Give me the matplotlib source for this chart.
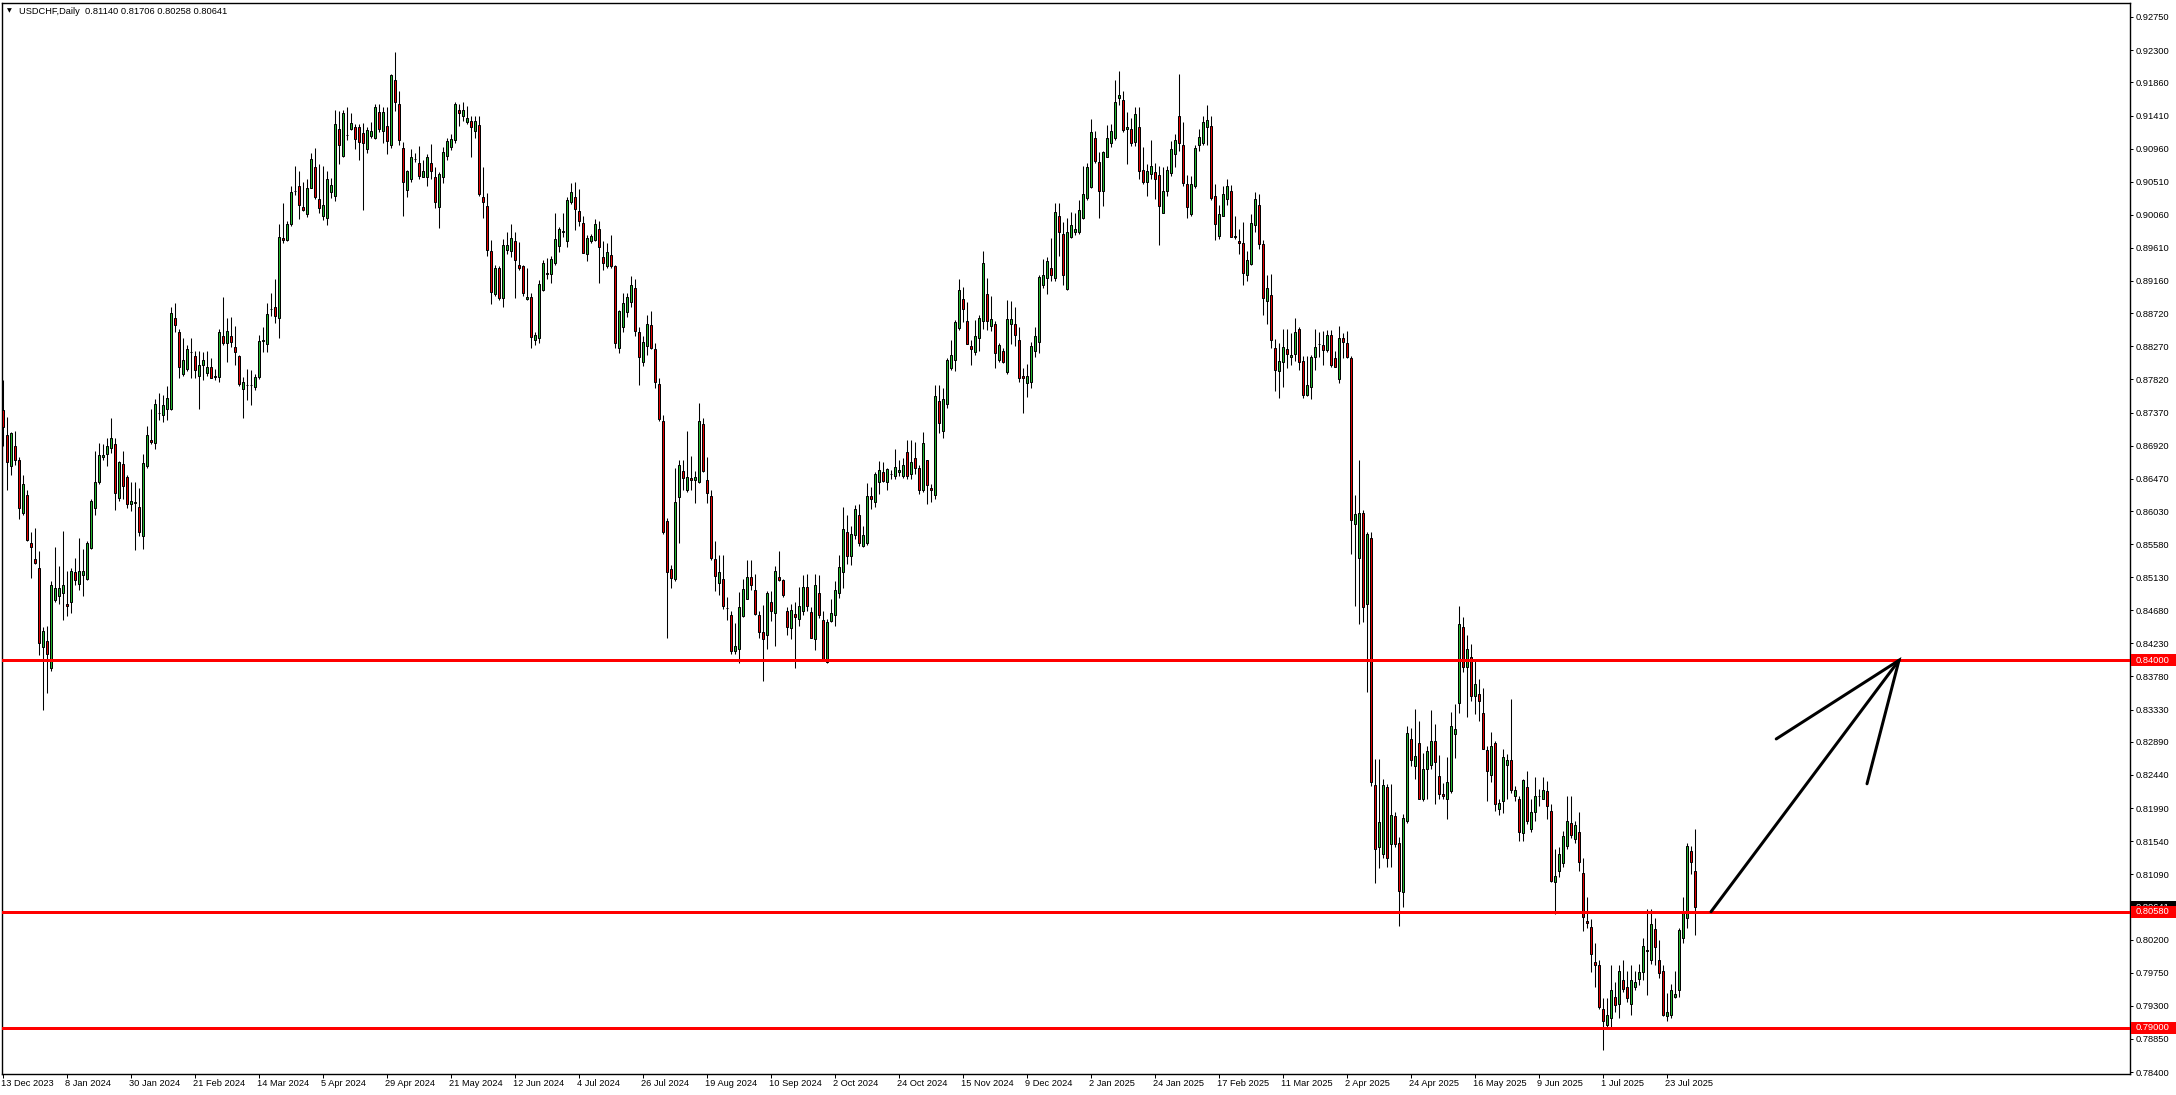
import numpy as np
import matplotlib
matplotlib.use('Agg')
import matplotlib.pyplot as plt
from matplotlib.patches import Rectangle
from matplotlib.transforms import blended_transform_factory, ScaledTranslation

# ---------------- data (daily USDCHF, bar index 0 = 13 Dec 2023) ----------------
opens = [
0.8741,0.8707,0.8664,0.8692,0.8673,0.8601,0.8625,0.8560,0.8538,0.8526,
0.8418,0.8426,0.8389,0.8482,0.8488,0.8492,0.8476,0.8479,0.8520,0.8504,
0.8516,0.8510,0.8553,0.8607,0.8643,0.8676,0.8680,0.8689,0.8694,0.8621,
0.8667,0.8649,0.8612,0.8615,0.8609,0.8569,0.8664,0.8700,0.8695,0.8737,
0.8733,0.8742,0.8742,0.8865,0.8847,0.8790,0.8796,0.8820,0.8814,0.8787,
0.8801,0.8791,0.8799,0.8787,0.8785,0.8841,0.8832,0.8841,0.8826,0.8814,
0.8769,0.8775,0.8774,0.8772,0.8785,0.8834,0.8830,0.8878,0.8880,0.8866,
0.8975,0.8972,0.8993,0.9038,0.9045,0.9016,0.9007,0.9043,0.9071,0.9027,
0.9005,0.9001,0.9037,0.9031,0.9123,0.9086,0.9115,0.9123,0.9125,0.9126,
0.9117,0.9095,0.9113,0.9111,0.9146,0.9120,0.9127,0.9101,0.9189,0.9156,
0.9097,0.9040,0.9054,0.9082,0.9076,0.9058,0.9058,0.9077,0.9058,0.9017,
0.9057,0.9086,0.9098,0.9108,0.9149,0.9141,0.9132,0.9134,0.9120,0.9128,
0.9030,0.9018,0.8957,0.8898,0.8933,0.8893,0.8958,0.8957,0.8971,0.8937,
0.8936,0.8891,0.8894,0.8835,0.8838,0.8903,0.8926,0.8925,0.8941,0.8963,
0.8983,0.8970,0.9024,0.9030,0.9011,0.8995,0.8953,0.8971,0.8972,0.8987,
0.8949,0.8936,0.8951,0.8936,0.8825,0.8853,0.8874,0.8887,0.8907,0.8847,
0.8806,0.8828,0.8856,0.8824,0.8776,0.8726,0.8590,0.8524,0.8510,0.8622,
0.8657,0.8631,0.8648,0.8645,0.8642,0.8721,0.8645,0.8623,0.8538,0.8505,
0.8510,0.8471,0.8462,0.8413,0.8415,0.8460,0.8483,0.8513,0.8495,0.8462,
0.8438,0.8434,0.8479,0.8465,0.8513,0.8509,0.8467,0.8444,0.8463,0.8456,
0.8467,0.8500,0.8466,0.8429,0.8492,0.8455,0.8398,0.8454,0.8461,0.8492,
0.8520,0.8574,0.8542,0.8570,0.8597,0.8556,0.8559,0.8624,0.8615,0.8642,
0.8656,0.8642,0.8653,0.8650,0.8656,0.8651,0.8684,0.8653,0.8675,0.8662,
0.8632,0.8672,0.8634,0.8625,0.8753,0.8712,0.8749,0.8798,0.8809,0.8852,
0.8892,0.8862,0.8827,0.8820,0.8839,0.8861,0.8898,0.8855,0.8857,0.8809,
0.8821,0.8792,0.8857,0.8857,0.8836,0.8787,0.8777,0.8778,0.8821,0.8833,
0.8911,0.8920,0.8934,0.8920,0.9004,0.8980,0.8905,0.8976,0.8983,0.8982,
0.9001,0.9029,0.9044,0.9110,0.9078,0.9039,0.9085,0.9103,0.9110,0.9165,
0.9162,0.9122,0.9123,0.9105,0.9126,0.9067,0.9051,0.9062,0.9064,0.9060,
0.9009,0.9039,0.9063,0.9088,0.9141,0.9101,0.9048,0.9007,0.9045,0.9101,
0.9103,0.9125,0.9127,0.9031,0.8977,0.9005,0.9028,0.9038,0.8976,0.8970,
0.8967,0.8924,0.8939,0.8992,0.9019,0.8966,0.8889,0.8897,0.8825,0.8793,
0.8806,0.8824,0.8813,0.8816,0.8850,0.8807,0.8761,0.8772,0.8813,0.8830,
0.8829,0.8822,0.8843,0.8811,0.8782,0.8839,0.8831,0.8811,0.8585,0.8539,
0.8601,0.8476,0.8567,0.8231,0.8146,0.8136,0.8227,0.8150,0.8188,0.8152,
0.8085,0.8181,0.8293,0.8256,0.8288,0.8211,0.8252,0.8258,0.8290,0.8243,
0.8218,0.8211,0.8222,0.8300,0.8342,0.8445,0.8391,0.8405,0.8351,0.8354,
0.8328,0.8278,0.8244,0.8287,0.8198,0.8208,0.8258,0.8265,0.8215,0.8212,
0.8165,0.8227,0.8171,0.8193,0.8215,0.8212,0.8222,0.8195,0.8098,0.8114,
0.8124,0.8148,0.8179,0.8157,0.8166,0.8111,0.8045,0.8037,0.7990,0.7986,
0.7926,0.7904,0.7914,0.7942,0.7933,0.7965,0.7956,0.7933,0.7955,0.7967,
0.7976,0.8006,0.7992,0.8035,0.7992,0.7978,0.7916,0.7918,0.7942,0.7951,
0.8022,0.8049,0.8140,0.81140]

highs = [
0.8781,0.8731,0.8711,0.8712,0.8677,0.8652,0.8632,0.8574,0.8580,0.8548,
0.8445,0.8446,0.8508,0.8554,0.8528,0.8576,0.8521,0.8525,0.8539,0.8567,
0.8551,0.8562,0.8620,0.8685,0.8695,0.8694,0.8703,0.8729,0.8703,0.8671,
0.8685,0.8652,0.8643,0.8643,0.8634,0.8681,0.8719,0.8742,0.8755,0.8763,
0.8761,0.8773,0.8881,0.8886,0.8850,0.8838,0.8829,0.8838,0.8821,0.8821,
0.8820,0.8821,0.8811,0.8796,0.8850,0.8894,0.8865,0.8867,0.8855,0.8815,
0.8785,0.8796,0.8795,0.8790,0.8842,0.8853,0.8886,0.8899,0.8919,0.8994,
0.9022,0.8997,0.9045,0.9072,0.9065,0.9051,0.9055,0.9090,0.9097,0.9075,
0.9072,0.9065,0.9056,0.9148,0.9147,0.9148,0.9153,0.9144,0.9129,0.9129,
0.9131,0.9125,0.9132,0.9156,0.9156,0.9153,0.9153,0.9198,0.9227,0.9175,
0.9105,0.9067,0.9096,0.9090,0.9099,0.9081,0.9088,0.9102,0.9071,0.9064,
0.9098,0.9111,0.9116,0.9159,0.9156,0.9159,0.9154,0.9141,0.9140,0.9141,
0.9071,0.9036,0.8972,0.8938,0.8936,0.8973,0.8983,0.8994,0.8983,0.8969,
0.8937,0.8933,0.8899,0.8847,0.8917,0.8944,0.8947,0.8950,0.9008,0.8989,
0.9008,0.9030,0.9049,0.9050,0.9041,0.9005,0.8979,0.8980,0.9000,0.8998,
0.8970,0.8967,0.8978,0.8937,0.8876,0.8899,0.8899,0.8923,0.8919,0.8853,
0.8841,0.8869,0.8875,0.8831,0.8784,0.8734,0.8594,0.8529,0.8662,0.8673,
0.8673,0.8712,0.8678,0.8658,0.8750,0.8729,0.8677,0.8631,0.8562,0.8543,
0.8543,0.8486,0.8467,0.8451,0.8493,0.8511,0.8536,0.8536,0.8518,0.8467,
0.8475,0.8494,0.8494,0.8528,0.8549,0.8511,0.8473,0.8477,0.8479,0.8500,
0.8516,0.8518,0.8473,0.8518,0.8516,0.8467,0.8456,0.8483,0.8508,0.8543,
0.8608,0.8598,0.8583,0.8611,0.8613,0.8583,0.8641,0.8636,0.8656,0.8671,
0.8670,0.8662,0.8659,0.8687,0.8672,0.8675,0.8700,0.8699,0.8697,0.8665,
0.8711,0.8672,0.8640,0.8774,0.8774,0.8770,0.8811,0.8835,0.8863,0.8919,
0.8908,0.8887,0.8836,0.8863,0.8870,0.8957,0.8920,0.8895,0.8861,0.8831,
0.8825,0.8890,0.8889,0.8880,0.8854,0.8798,0.8803,0.8833,0.8854,0.8924,
0.8946,0.8949,0.8975,0.9022,0.9022,0.8996,0.9001,0.9010,0.9008,0.9026,
0.9072,0.9077,0.9136,0.9120,0.9091,0.9093,0.9128,0.9130,0.9189,0.9202,
0.9175,0.9146,0.9137,0.9153,0.9153,0.9098,0.9075,0.9108,0.9077,0.9072,
0.9071,0.9072,0.9106,0.9116,0.9197,0.9132,0.9060,0.9059,0.9101,0.9122,
0.9140,0.9155,0.9140,0.9048,0.9019,0.9045,0.9055,0.9047,0.9004,0.8986,
0.8996,0.8957,0.9007,0.9037,0.9034,0.8972,0.8924,0.8926,0.8837,0.8832,
0.8851,0.8851,0.8845,0.8865,0.8853,0.8814,0.8814,0.8815,0.8851,0.8846,
0.8848,0.8849,0.8849,0.8821,0.8855,0.8845,0.8848,0.8814,0.8625,0.8672,
0.8605,0.8574,0.8575,0.8266,0.8266,0.8239,0.8232,0.8232,0.8193,0.8160,
0.8191,0.8310,0.8308,0.8334,0.8317,0.8274,0.8283,0.8332,0.8314,0.8271,
0.8233,0.8269,0.8330,0.8341,0.8474,0.8459,0.8435,0.8422,0.8401,0.8374,
0.8362,0.8283,0.8303,0.8290,0.8212,0.8279,0.8273,0.8347,0.8229,0.8215,
0.8239,0.8249,0.8212,0.8241,0.8225,0.8241,0.8236,0.8205,0.8144,0.8146,
0.8168,0.8215,0.8215,0.8182,0.8193,0.8131,0.8078,0.8048,0.8016,0.7992,
0.7941,0.7941,0.7985,0.7962,0.7985,0.7992,0.7978,0.7985,0.7978,0.7987,
0.8022,0.8062,0.8062,0.8050,0.8019,0.7985,0.7948,0.7960,0.7978,0.8036,
0.8078,0.8151,0.8147,0.81706]

lows = [
0.8691,0.8631,0.8652,0.8665,0.8592,0.8598,0.8562,0.8512,0.8531,0.8407,
0.8332,0.8355,0.8385,0.8479,0.8477,0.8455,0.8460,0.8465,0.8503,0.8496,
0.8487,0.8509,0.8551,0.8598,0.8640,0.8673,0.8664,0.8682,0.8604,0.8617,
0.8619,0.8607,0.8603,0.8550,0.8569,0.8551,0.8661,0.8694,0.8688,0.8727,
0.8724,0.8727,0.8741,0.8847,0.8784,0.8787,0.8793,0.8784,0.8784,0.8742,
0.8781,0.8787,0.8784,0.8781,0.8778,0.8829,0.8806,0.8826,0.8801,0.8773,
0.8730,0.8754,0.8747,0.8767,0.8783,0.8820,0.8820,0.8868,0.8859,0.8838,
0.8967,0.8971,0.8991,0.9033,0.9000,0.9011,0.9003,0.9042,0.9027,0.9009,
0.8999,0.8992,0.9029,0.9025,0.9075,0.9084,0.9108,0.9121,0.9095,0.9081,
0.9013,0.9090,0.9111,0.9109,0.9119,0.9103,0.9089,0.9097,0.9147,0.9101,
0.9005,0.9030,0.9051,0.9078,0.9055,0.9057,0.9045,0.9055,0.9015,0.8988,
0.9049,0.9080,0.9094,0.9104,0.9127,0.9134,0.9129,0.9085,0.9111,0.9031,
0.9001,0.8950,0.8884,0.8895,0.8890,0.8881,0.8952,0.8949,0.8893,0.8931,
0.8895,0.8890,0.8825,0.8829,0.8831,0.8902,0.8919,0.8913,0.8938,0.8956,
0.8976,0.8962,0.9021,0.8985,0.8991,0.8954,0.8943,0.8967,0.8971,0.8913,
0.8931,0.8933,0.8934,0.8825,0.8818,0.8846,0.8867,0.8881,0.8841,0.8774,
0.8800,0.8815,0.8823,0.8771,0.8726,0.8572,0.8431,0.8498,0.8508,0.8559,
0.8631,0.8629,0.8631,0.8614,0.8641,0.8656,0.8614,0.8537,0.8494,0.8489,
0.8470,0.8455,0.8408,0.8408,0.8397,0.8459,0.8483,0.8495,0.8461,0.8431,
0.8372,0.8415,0.8454,0.8420,0.8508,0.8486,0.8434,0.8429,0.8389,0.8447,
0.8462,0.8467,0.8430,0.8414,0.8457,0.8400,0.8397,0.8452,0.8447,0.8485,
0.8499,0.8531,0.8529,0.8565,0.8556,0.8554,0.8557,0.8606,0.8609,0.8626,
0.8642,0.8631,0.8647,0.8647,0.8650,0.8648,0.8646,0.8646,0.8654,0.8626,
0.8629,0.8613,0.8615,0.8619,0.8709,0.8702,0.8743,0.8795,0.8793,0.8849,
0.8860,0.8830,0.8801,0.8815,0.8821,0.8851,0.8849,0.8848,0.8798,0.8806,
0.8805,0.8790,0.8830,0.8827,0.8778,0.8736,0.8758,0.8771,0.8812,0.8818,
0.8907,0.8898,0.8916,0.8916,0.8950,0.8911,0.8904,0.8975,0.8979,0.8980,
0.9000,0.9026,0.9042,0.9077,0.9002,0.9018,0.9084,0.9098,0.9108,0.9155,
0.9119,0.9075,0.9100,0.9100,0.9054,0.9048,0.9032,0.9055,0.9028,0.8965,
0.9008,0.9031,0.9059,0.9071,0.9093,0.9045,0.9002,0.9004,0.9042,0.9093,
0.9101,0.9101,0.9026,0.8972,0.8973,0.9004,0.9019,0.8976,0.8973,0.8953,
0.8911,0.8916,0.8937,0.8983,0.8959,0.8870,0.8857,0.8825,0.8766,0.8757,
0.8772,0.8797,0.8802,0.8807,0.8795,0.8757,0.8759,0.8755,0.8795,0.8813,
0.8802,0.8820,0.8799,0.8799,0.8777,0.8811,0.8811,0.8545,0.8474,0.8449,
0.8452,0.8357,0.8229,0.8097,0.8117,0.8131,0.8119,0.8119,0.8146,0.8038,
0.8064,0.8179,0.8256,0.8239,0.8211,0.8209,0.8212,0.8252,0.8204,0.8212,
0.8212,0.8184,0.8220,0.8267,0.8328,0.8384,0.8323,0.8344,0.8327,0.8317,
0.8279,0.8208,0.8235,0.8195,0.8190,0.8192,0.8212,0.8219,0.8208,0.8154,
0.8154,0.8178,0.8166,0.8181,0.8202,0.8211,0.8184,0.8098,0.8055,0.8105,
0.8119,0.8144,0.8158,0.8151,0.8114,0.8032,0.8036,0.7976,0.7956,0.7926,
0.7870,0.7898,0.7901,0.7921,0.7913,0.7949,0.7935,0.7917,0.7951,0.7958,
0.7965,0.7945,0.7987,0.7985,0.7968,0.7916,0.7909,0.7914,0.7941,0.7942,
0.8016,0.8036,0.8109,0.80258]

closes = [
0.8718,0.8670,0.8709,0.8673,0.8607,0.8640,0.8563,0.8554,0.8533,0.8424,
0.8440,0.8409,0.8503,0.8498,0.8498,0.8503,0.8474,0.8522,0.8509,0.8522,
0.8522,0.8560,0.8616,0.8643,0.8679,0.8679,0.8691,0.8702,0.8628,0.8670,
0.8637,0.8613,0.8617,0.8614,0.8574,0.8668,0.8706,0.8697,0.8748,0.8737,
0.8747,0.8757,0.8872,0.8856,0.8799,0.8808,0.8824,0.8819,0.8795,0.8802,
0.8809,0.8799,0.8784,0.8786,0.8847,0.8832,0.8848,0.8833,0.8820,0.8776,
0.8778,0.8774,0.8775,0.8786,0.8834,0.8835,0.8871,0.8878,0.8868,0.8976,
0.8972,0.8994,0.9037,0.9038,0.9019,0.9013,0.9043,0.9082,0.9030,0.9015,
0.9019,0.9054,0.9047,0.9130,0.9101,0.9145,0.9115,0.9131,0.9109,0.9105,
0.9103,0.9121,0.9120,0.9152,0.9123,0.9146,0.9106,0.9196,0.9159,0.9108,
0.9051,0.9065,0.9084,0.9082,0.9059,0.9066,0.9084,0.9066,0.9023,0.9062,
0.9092,0.9107,0.9109,0.9157,0.9144,0.9148,0.9137,0.9126,0.9133,0.9034,
0.9023,0.8958,0.8901,0.8934,0.8893,0.8965,0.8965,0.8975,0.8944,0.8934,
0.8900,0.8894,0.8840,0.8843,0.8912,0.8940,0.8927,0.8946,0.8973,0.8986,
0.8984,0.9026,0.9037,0.9014,0.8998,0.8954,0.8975,0.8977,0.8994,0.8962,
0.8941,0.8956,0.8936,0.8831,0.8875,0.8886,0.8894,0.8911,0.8848,0.8812,
0.8833,0.8858,0.8825,0.8778,0.8728,0.8575,0.8520,0.8512,0.8615,0.8665,
0.8648,0.8649,0.8645,0.8649,0.8725,0.8657,0.8628,0.8539,0.8514,0.8520,
0.8474,0.8471,0.8413,0.8420,0.8473,0.8497,0.8513,0.8502,0.8463,0.8439,
0.8429,0.8492,0.8467,0.8521,0.8509,0.8489,0.8445,0.8469,0.8459,0.8474,
0.8500,0.8474,0.8431,0.8502,0.8461,0.8402,0.8452,0.8465,0.8495,0.8527,
0.8578,0.8542,0.8572,0.8606,0.8560,0.8570,0.8624,0.8619,0.8654,0.8659,
0.8644,0.8660,0.8653,0.8663,0.8659,0.8666,0.8650,0.8670,0.8662,0.8632,
0.8695,0.8638,0.8631,0.8760,0.8723,0.8755,0.8808,0.8815,0.8860,0.8903,
0.8878,0.8830,0.8823,0.8841,0.8865,0.8940,0.8862,0.8864,0.8818,0.8829,
0.8806,0.8864,0.8864,0.8843,0.8784,0.8784,0.8787,0.8828,0.8841,0.8921,
0.8924,0.8943,0.8924,0.9010,0.8983,0.8924,0.8983,0.8992,0.8986,0.9012,
0.9034,0.9071,0.9118,0.9079,0.9039,0.9091,0.9110,0.9120,0.9159,0.9169,
0.9121,0.9126,0.9103,0.9143,0.9066,0.9051,0.9066,0.9072,0.9055,0.9018,
0.9038,0.9067,0.9096,0.9108,0.9103,0.9049,0.9016,0.9048,0.9097,0.9112,
0.9132,0.9135,0.9029,0.8993,0.9007,0.9034,0.9045,0.8976,0.8977,0.8967,
0.8927,0.8945,0.8995,0.9028,0.8966,0.8893,0.8907,0.8835,0.8795,0.8807,
0.8826,0.8816,0.8815,0.8846,0.8806,0.8761,0.8775,0.8813,0.8826,0.8830,
0.8822,0.8843,0.8802,0.8799,0.8839,0.8833,0.8813,0.8591,0.8599,0.8601,
0.8472,0.8572,0.8234,0.8143,0.8180,0.8231,0.8131,0.8189,0.8150,0.8086,
0.8186,0.8301,0.8265,0.8270,0.8211,0.8252,0.8277,0.8290,0.8262,0.8218,
0.8215,0.8235,0.8311,0.8307,0.8450,0.8391,0.8416,0.8351,0.8368,0.8344,
0.8279,0.8249,0.8283,0.8204,0.8206,0.8269,0.8265,0.8224,0.8224,0.8166,
0.8237,0.8181,0.8193,0.8215,0.8215,0.8224,0.8202,0.8100,0.8107,0.8136,
0.8161,0.8182,0.8163,0.8176,0.8125,0.8051,0.8043,0.8001,0.7986,0.7929,
0.7909,0.7918,0.7951,0.7931,0.7978,0.7953,0.7940,0.7965,0.7962,0.7976,
0.8012,0.8005,0.8041,0.8010,0.7975,0.7917,0.7922,0.7951,0.7946,0.8033,
0.8056,0.8147,0.8126,0.80641]

date_labels = ['13 Dec 2023', '8 Jan 2024', '30 Jan 2024', '21 Feb 2024', '14 Mar 2024',
               '5 Apr 2024', '29 Apr 2024', '21 May 2024', '12 Jun 2024', '4 Jul 2024',
               '26 Jul 2024', '19 Aug 2024', '10 Sep 2024', '2 Oct 2024', '24 Oct 2024',
               '15 Nov 2024', '9 Dec 2024', '2 Jan 2025', '24 Jan 2025', '17 Feb 2025',
               '11 Mar 2025', '2 Apr 2025', '24 Apr 2025', '16 May 2025', '9 Jun 2025',
               '1 Jul 2025', '23 Jul 2025']
date_label_bars = [16 * k for k in range(len(date_labels))]

price_ticks = [0.92750, 0.92300, 0.91860, 0.91410, 0.90960, 0.90510, 0.90060, 0.89610,
               0.89160, 0.88720, 0.88270, 0.87820, 0.87370, 0.86920, 0.86470, 0.86030,
               0.85580, 0.85130, 0.84680, 0.84230, 0.83780, 0.83330, 0.82890, 0.82440,
               0.81990, 0.81540, 0.81090, 0.80200, 0.79750, 0.79300, 0.78850, 0.78400]

levels = [0.84000, 0.80580, 0.79000]
last_price = 0.80641
header = 'USDCHF,Daily  0.81140 0.81706 0.80258 0.80641'

# hand-drawn arrow (bar index, price)
arrow_shaft = [(427, 0.8058), (474, 0.8400)]
arrow_head = [(443.3, 0.8293), (474, 0.8400), (466, 0.8232)]

# ---------------- figure ----------------
W, HP = 2176, 1095
PX = 0.72  # one pixel in points at dpi 100
FONT = 'Liberation Sans'
FS = 6.7
GREEN = '#22B42E'
RED = '#E00000'

plt.rcParams['font.family'] = [FONT, 'DejaVu Sans']

fig = plt.figure(figsize=(W / 100, HP / 100), dpi=100)
fig.patch.set_facecolor('white')
ax = fig.add_axes([2 / W, 1 - 1074 / HP, 2128 / W, 1071 / HP])
ax.set_facecolor('white')

o = np.array(opens); h = np.array(highs); l = np.array(lows); c = np.array(closes)
x = np.arange(len(o))
up = c >= o

ax.vlines(x, l, h, color='black', linewidth=PX * 1.05, zorder=2)
ax.bar(x, np.abs(c - o), bottom=np.minimum(o, c), width=0.6,
       color=np.where(up, GREEN, RED), edgecolor='black', linewidth=PX, zorder=3)

for lv in levels:
    ax.axhline(lv, color='#FF0000', linewidth=3 * PX, zorder=4)

ax.plot([p[0] for p in arrow_shaft], [p[1] for p in arrow_shaft], color='black',
        linewidth=3 * PX, solid_capstyle='round', zorder=5)
ax.plot([p[0] for p in arrow_head], [p[1] for p in arrow_head], color='black',
        linewidth=3 * PX, solid_capstyle='round', solid_joinstyle='miter', zorder=5)

ax.set_xlim(-0.25, 531.75)
ax.set_ylim(0.9275 - 1057 / 7352, 0.9275 + 14 / 7352)

# axes frame
for sp in ax.spines.values():
    sp.set_linewidth(PX * 1.4)
    sp.set_color('black')

ax.yaxis.tick_right()
ax.set_yticks(price_ticks)
ax.set_yticklabels([f'{v:.5f}' for v in price_ticks])
ax.tick_params(axis='y', direction='out', length=3 * PX, width=PX, pad=3 * PX,
               labelsize=FS, colors='black')
ax.set_xticks(date_label_bars)
ax.set_xticklabels(date_labels)
ax.tick_params(axis='x', direction='out', length=4 * PX, width=PX, pad=1.5 * PX,
               labelsize=FS, colors='black')
off = ScaledTranslation(-2 / 100, 0, fig.dpi_scale_trans)
for t in ax.get_xticklabels():
    t.set_horizontalalignment('left')
    t.set_transform(t.get_transform() + off)

# price boxes at right axis (current price box sits behind the 0.80580 level box)
trans = blended_transform_factory(fig.transFigure, ax.transData)
boxes = [(last_price, 'black')] + [(lv, '#FF0000') for lv in levels]
for k, (val, col) in enumerate(boxes):
    rect = Rectangle((2131 / W, val - 6.2 / 7352), 45 / W, 12.4 / 7352,
                     transform=trans, facecolor=col, edgecolor='none',
                     clip_on=False, zorder=6 + 2 * k)
    ax.add_patch(rect)
    ax.text(2136 / W, val, f'{val:.5f}', transform=trans, color='white',
            fontsize=FS, va='center', ha='left', clip_on=False, zorder=7 + 2 * k)

# header
fig.text(7 / W, 1 - 11 / HP, '\u25BC', fontsize=4.5, va='center', ha='left',
         family='DejaVu Sans')
fig.text(19 / W, 1 - 11 / HP, header, fontsize=FS, va='center', ha='left')

fig.savefig('out.png', dpi=100, facecolor='white')
